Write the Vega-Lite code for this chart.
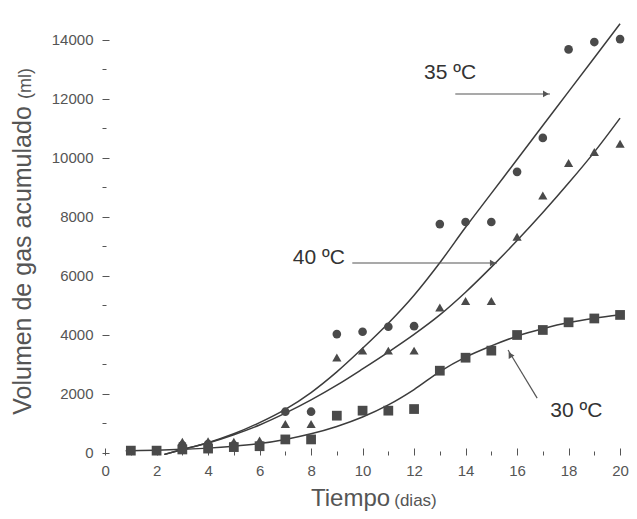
{
  "$schema": "https://vega.github.io/schema/vega-lite/v6.json",
  "width": 533,
  "height": 442,
  "autosize": {"type": "none"},
  "padding": {"left": 102, "top": 13, "right": 2, "bottom": 64},
  "background": "white",
  "config": {
    "view": {"stroke": null},
    "font": "Liberation Sans",
    "axis": {"labelFont": "Liberation Sans", "titleFont": "Liberation Sans", "domainColor": "#555", "tickColor": "#555", "labelColor": "#555", "titleColor": "#555", "grid": false, "titleFontWeight": "normal"}
  },
  "resolve": {"axis": {"x": "independent", "y": "independent"}},
  "datasets": {
    "obs": [
      {"dia": 3, "vol": 260, "temp": "35"}, {"dia": 4, "vol": 300, "temp": "35"}, {"dia": 5, "vol": 260, "temp": "35"}, {"dia": 6, "vol": 280, "temp": "35"},
      {"dia": 7, "vol": 1400, "temp": "35"}, {"dia": 8, "vol": 1400, "temp": "35"}, {"dia": 9, "vol": 4030, "temp": "35"}, {"dia": 10, "vol": 4110, "temp": "35"},
      {"dia": 11, "vol": 4280, "temp": "35"}, {"dia": 12, "vol": 4300, "temp": "35"}, {"dia": 13, "vol": 7760, "temp": "35"}, {"dia": 14, "vol": 7830, "temp": "35"},
      {"dia": 15, "vol": 7830, "temp": "35"}, {"dia": 16, "vol": 9530, "temp": "35"}, {"dia": 17, "vol": 10680, "temp": "35"}, {"dia": 18, "vol": 13680, "temp": "35"},
      {"dia": 19, "vol": 13930, "temp": "35"}, {"dia": 20, "vol": 14030, "temp": "35"},
      {"dia": 3, "vol": 380, "temp": "40"}, {"dia": 4, "vol": 400, "temp": "40"}, {"dia": 5, "vol": 380, "temp": "40"}, {"dia": 6, "vol": 420, "temp": "40"},
      {"dia": 7, "vol": 980, "temp": "40"}, {"dia": 8, "vol": 980, "temp": "40"}, {"dia": 9, "vol": 3240, "temp": "40"}, {"dia": 10, "vol": 3470, "temp": "40"},
      {"dia": 11, "vol": 3470, "temp": "40"}, {"dia": 12, "vol": 3470, "temp": "40"}, {"dia": 13, "vol": 4930, "temp": "40"}, {"dia": 14, "vol": 5150, "temp": "40"},
      {"dia": 15, "vol": 5150, "temp": "40"}, {"dia": 16, "vol": 7330, "temp": "40"}, {"dia": 17, "vol": 8730, "temp": "40"}, {"dia": 18, "vol": 9830, "temp": "40"},
      {"dia": 19, "vol": 10200, "temp": "40"}, {"dia": 20, "vol": 10480, "temp": "40"},
      {"dia": 1, "vol": 80, "temp": "30"}, {"dia": 2, "vol": 80, "temp": "30"}, {"dia": 3, "vol": 120, "temp": "30"}, {"dia": 4, "vol": 150, "temp": "30"},
      {"dia": 5, "vol": 200, "temp": "30"}, {"dia": 6, "vol": 230, "temp": "30"}, {"dia": 7, "vol": 460, "temp": "30"}, {"dia": 8, "vol": 460, "temp": "30"},
      {"dia": 9, "vol": 1265, "temp": "30"}, {"dia": 10, "vol": 1435, "temp": "30"}, {"dia": 11, "vol": 1435, "temp": "30"}, {"dia": 12, "vol": 1490, "temp": "30"},
      {"dia": 13, "vol": 2790, "temp": "30"}, {"dia": 14, "vol": 3230, "temp": "30"}, {"dia": 15, "vol": 3470, "temp": "30"}, {"dia": 16, "vol": 4000, "temp": "30"},
      {"dia": 17, "vol": 4170, "temp": "30"}, {"dia": 18, "vol": 4430, "temp": "30"}, {"dia": 19, "vol": 4560, "temp": "30"}, {"dia": 20, "vol": 4680, "temp": "30"}
    ],
    "fit": [
      {"dia": 2.3, "vol": -50, "temp": "35"}, {"dia": 3, "vol": 120, "temp": "35"}, {"dia": 4, "vol": 350, "temp": "35"}, {"dia": 5, "vol": 650, "temp": "35"},
      {"dia": 6, "vol": 1030, "temp": "35"}, {"dia": 7, "vol": 1480, "temp": "35"}, {"dia": 8, "vol": 2050, "temp": "35"}, {"dia": 9, "vol": 2750, "temp": "35"},
      {"dia": 10, "vol": 3550, "temp": "35"}, {"dia": 11, "vol": 4400, "temp": "35"}, {"dia": 12, "vol": 5350, "temp": "35"}, {"dia": 13, "vol": 6450, "temp": "35"},
      {"dia": 14, "vol": 7650, "temp": "35"}, {"dia": 15, "vol": 8800, "temp": "35"}, {"dia": 16, "vol": 9950, "temp": "35"}, {"dia": 17, "vol": 11100, "temp": "35"},
      {"dia": 18, "vol": 12250, "temp": "35"}, {"dia": 19, "vol": 13400, "temp": "35"}, {"dia": 20, "vol": 14550, "temp": "35"},
      {"dia": 2.3, "vol": -50, "temp": "40"}, {"dia": 3, "vol": 120, "temp": "40"}, {"dia": 4, "vol": 340, "temp": "40"}, {"dia": 5, "vol": 620, "temp": "40"},
      {"dia": 6, "vol": 950, "temp": "40"}, {"dia": 7, "vol": 1350, "temp": "40"}, {"dia": 8, "vol": 1800, "temp": "40"}, {"dia": 9, "vol": 2300, "temp": "40"},
      {"dia": 10, "vol": 2850, "temp": "40"}, {"dia": 11, "vol": 3420, "temp": "40"}, {"dia": 12, "vol": 4020, "temp": "40"}, {"dia": 13, "vol": 4680, "temp": "40"},
      {"dia": 14, "vol": 5450, "temp": "40"}, {"dia": 15, "vol": 6300, "temp": "40"}, {"dia": 16, "vol": 7200, "temp": "40"}, {"dia": 17, "vol": 8150, "temp": "40"},
      {"dia": 18, "vol": 9150, "temp": "40"}, {"dia": 19, "vol": 10200, "temp": "40"}, {"dia": 20, "vol": 11350, "temp": "40"},
      {"dia": 0.8, "vol": 75, "temp": "30"}, {"dia": 1, "vol": 78, "temp": "30"}, {"dia": 2, "vol": 95, "temp": "30"}, {"dia": 3, "vol": 125, "temp": "30"},
      {"dia": 4, "vol": 165, "temp": "30"}, {"dia": 5, "vol": 230, "temp": "30"}, {"dia": 6, "vol": 320, "temp": "30"}, {"dia": 7, "vol": 460, "temp": "30"},
      {"dia": 8, "vol": 650, "temp": "30"}, {"dia": 9, "vol": 900, "temp": "30"}, {"dia": 10, "vol": 1220, "temp": "30"}, {"dia": 11, "vol": 1630, "temp": "30"},
      {"dia": 12, "vol": 2150, "temp": "30"}, {"dia": 13, "vol": 2760, "temp": "30"}, {"dia": 14, "vol": 3250, "temp": "30"}, {"dia": 15, "vol": 3630, "temp": "30"},
      {"dia": 16, "vol": 3960, "temp": "30"}, {"dia": 17, "vol": 4210, "temp": "30"}, {"dia": 18, "vol": 4420, "temp": "30"}, {"dia": 19, "vol": 4570, "temp": "30"},
      {"dia": 20, "vol": 4690, "temp": "30"}
    ],
    "labels": [
      {"dia": 13.4, "vol": 12880, "texto": "35 ºC"},
      {"dia": 8.3, "vol": 6610, "texto": "40 ºC"},
      {"dia": 18.3, "vol": 1420, "texto": "30 ºC"}
    ],
    "arrows": [
      {"dia": 13.6, "vol": 12170, "dia2": 17.28, "vol2": 12170, "temp": "35"},
      {"dia": 9.6, "vol": 6440, "dia2": 15.22, "vol2": 6440, "temp": "40"},
      {"dia": 16.78, "vol": 1860, "dia2": 15.65, "vol2": 3490, "temp": "30"}
    ],
    "heads": [
      {"dia": 17.12, "vol": 12170, "temp": "35"},
      {"dia": 15.06, "vol": 6440, "temp": "40"},
      {"dia": 15.73, "vol": 3330, "temp": "30"}
    ]
  },
  "layer": [
    {
      "mark": {"type": "rule", "color": "#555", "strokeWidth": 1},
      "encoding": {"y": {"datum": 14915, "type": "quantitative", "axis": null}}
    },
    {
      "mark": {"type": "rule", "color": "#555", "strokeWidth": 1},
      "encoding": {"y": {"datum": -68, "type": "quantitative", "axis": null}}
    },
    {
      "mark": {"type": "rule", "color": "#555", "strokeWidth": 1},
      "encoding": {"x": {"datum": -0.12, "type": "quantitative", "axis": null}}
    },
    {
      "data": {"name": "fit"},
      "mark": {"type": "line", "interpolate": "monotone", "color": "#3c3c3c", "strokeWidth": 1.5, "clip": true},
      "encoding": {
        "x": {"field": "dia", "type": "quantitative", "scale": {"domain": [-0.12, 20.58], "nice": false, "zero": false},
          "axis": {"orient": "bottom", "values": [0,2,4,6,8,10,12,14,16,18,20], "offset": -7, "tickSize": 7, "domain": false,
            "labelPadding": 8, "labelFontSize": 15, "labelFlush": false,
            "title": "Tiempo", "titleFontSize": 24, "titleX": 248, "titleY": 57, "titleAlign": "center", "titleBaseline": "alphabetic", "titleAnchor": null}},
        "y": {"field": "vol", "type": "quantitative", "scale": {"domain": [-68, 14915], "nice": false, "zero": false},
          "axis": {"orient": "left", "values": [0,2000,4000,6000,8000,10000,12000,14000], "format": "d", "offset": -7, "tickSize": 7, "domain": false,
            "labelPadding": 9, "labelFontSize": 15, "labelFlush": false,
            "title": "Volumen de gas acumulado", "titleFontSize": 25, "titleAngle": -90, "titleX": -79, "titleY": 247, "titleAlign": "center", "titleBaseline": "alphabetic"}},
        "detail": {"field": "temp"}
      }
    },
    {
      "data": {"name": "obs"},
      "mark": {"type": "point", "filled": true, "color": "#4a4a4a", "opacity": 1},
      "encoding": {
        "x": {"field": "dia", "type": "quantitative",
          "axis": {"orient": "bottom", "values": [1,3,5,7,9,11,13,15,17,19], "offset": -4, "tickSize": 4, "domain": false, "labels": false,
            "title": "(dias)", "titleFontSize": 17, "titleX": 313, "titleY": 54, "titleAlign": "center", "titleBaseline": "alphabetic"}},
        "y": {"field": "vol", "type": "quantitative",
          "axis": {"orient": "left", "values": [1000,3000,5000,7000,9000,11000,13000], "offset": -4, "tickSize": 4, "domain": false, "labels": false,
            "title": "(ml)", "titleFontSize": 18, "titleAngle": -90, "titleX": -76, "titleY": 70, "titleAlign": "center", "titleBaseline": "alphabetic"}},
        "shape": {"field": "temp", "type": "nominal", "scale": {"domain": ["35", "40", "30"], "range": ["circle", "triangle-up", "square"]}, "legend": null},
        "size": {"field": "temp", "type": "nominal", "scale": {"domain": ["35", "40", "30"], "range": [75, 95, 65]}, "legend": null}
      }
    },
    {
      "data": {"name": "arrows"},
      "mark": {"type": "rule", "color": "#555", "strokeWidth": 1.2},
      "encoding": {
        "x": {"field": "dia", "type": "quantitative", "axis": null},
        "y": {"field": "vol", "type": "quantitative", "axis": null},
        "x2": {"field": "dia2"},
        "y2": {"field": "vol2"}
      }
    },
    {
      "data": {"name": "heads"},
      "transform": [{"filter": "datum.temp !== '30'"}],
      "mark": {"type": "point", "shape": "triangle-right", "filled": true, "color": "#555", "size": 45, "opacity": 1},
      "encoding": {
        "x": {"field": "dia", "type": "quantitative", "axis": null},
        "y": {"field": "vol", "type": "quantitative", "axis": null}
      }
    },
    {
      "data": {"name": "heads"},
      "transform": [{"filter": "datum.temp === '30'"}],
      "mark": {"type": "point", "shape": "triangle-up", "filled": true, "color": "#555", "size": 45, "opacity": 1, "angle": 329},
      "encoding": {
        "x": {"field": "dia", "type": "quantitative", "axis": null},
        "y": {"field": "vol", "type": "quantitative", "axis": null}
      }
    },
    {
      "data": {"name": "labels"},
      "mark": {"type": "text", "font": "Liberation Sans", "fontSize": 21, "color": "#333", "align": "center", "baseline": "middle"},
      "encoding": {
        "x": {"field": "dia", "type": "quantitative", "axis": null},
        "y": {"field": "vol", "type": "quantitative", "axis": null},
        "text": {"field": "texto"}
      }
    }
  ]
}
